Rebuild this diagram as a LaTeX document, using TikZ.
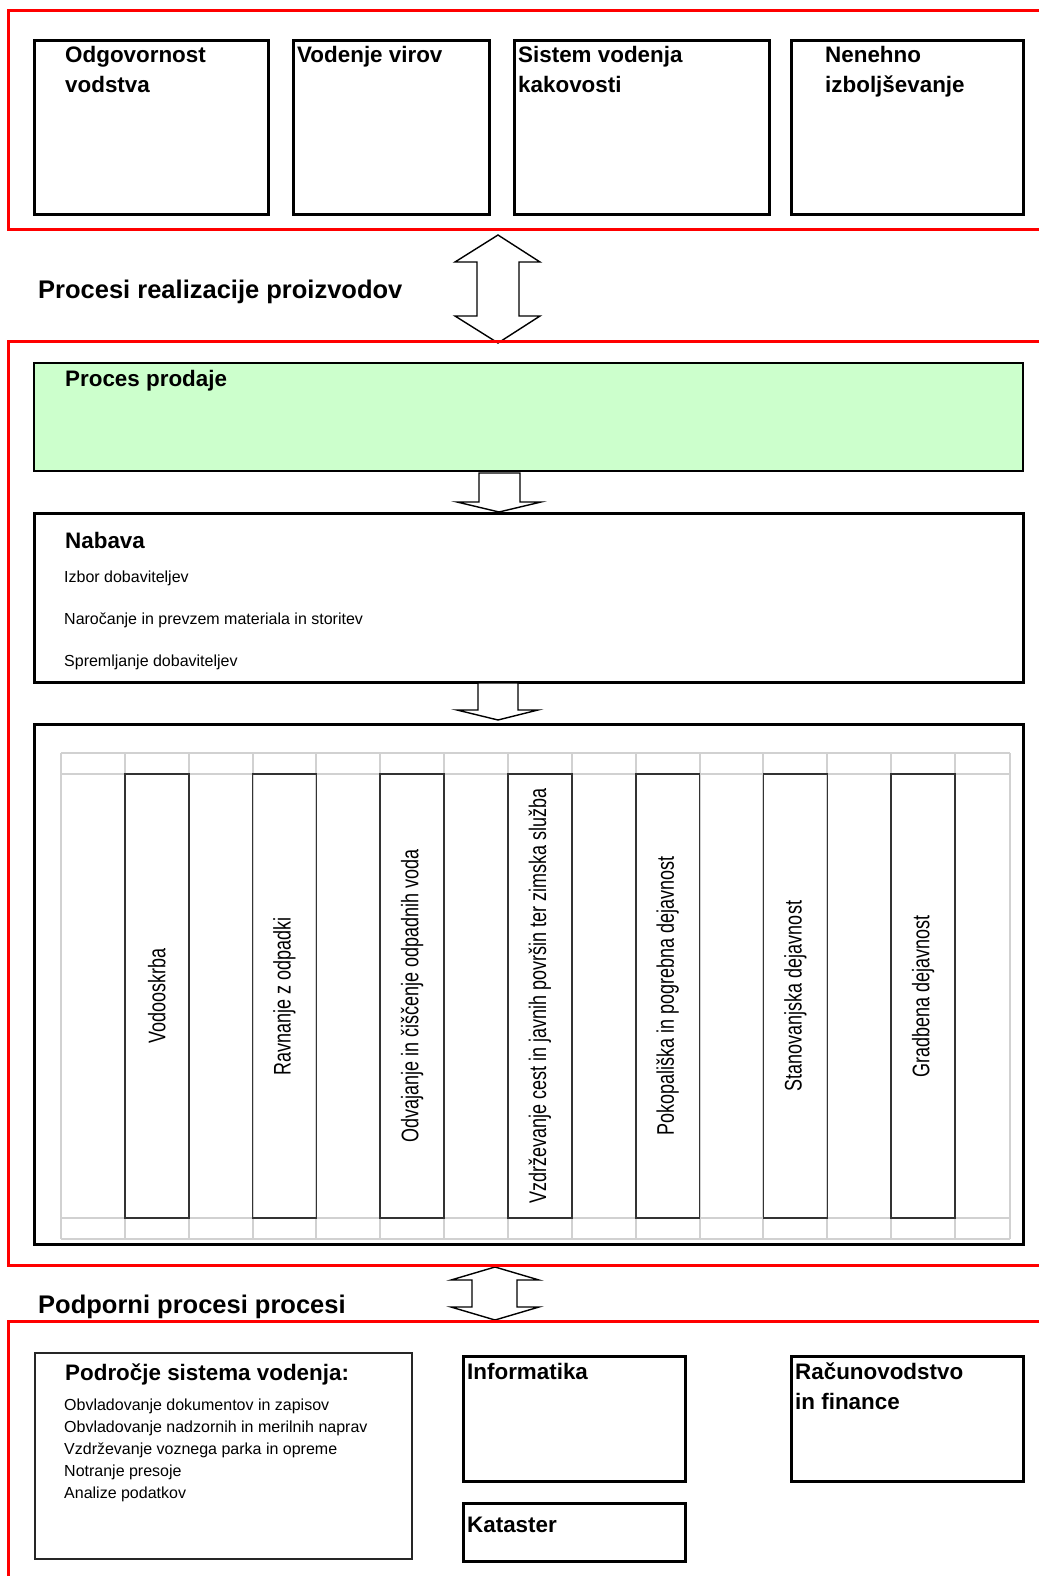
\documentclass[tikz,border=0pt]{standalone}
\usepackage{fontspec}
\setmainfont{Liberation Sans}
\usepackage{tikz}
\usetikzlibrary{positioning}
\definecolor{prodgreen}{RGB}{204,255,204}

\begin{document}
\begin{tikzpicture}[x=1pt, y=-1pt,
    redframe/.style={draw=red, line width=3pt},
    box/.style={draw, line width=2.6pt, inner sep=0pt, anchor=north west},
    head/.style={inner sep=0pt, align=left, font=\fontsize{22.4}{30}\selectfont\bfseries},
    sectitle/.style={inner sep=0pt, anchor=base west, font=\fontsize{25.5}{30}\selectfont\bfseries},
    itemtext/.style={inner sep=0pt, align=left, font=\fontsize{16}{#1}\selectfont},
    itemtext/.default=22.1,
    gridline/.style={draw=black!18, line width=2pt},
    proc/.style={draw=black!80, line width=1.6pt, rotate=90, minimum width=444pt, minimum height=63.9pt, inner sep=0pt, font=\fontsize{24}{24}\selectfont},
    block/.style={draw, fill=white, line width=1.4pt}]
  \useasboundingbox (0,0) rectangle (1039,1576);

  \node[box, minimum width=234pt, minimum height=174pt] (lead) at (33,39) {};
  \node[box, minimum width=196pt, minimum height=174pt] (res) at (292,39) {};
  \node[box, minimum width=255pt, minimum height=174pt] (qms) at (513,39) {};
  \node[box, minimum width=232pt, minimum height=174pt] (impr) at (790,39) {};
  \node[head, below right=7pt and 32pt of lead.north west] (leadtxt) {Odgovornost\\vodstva};
  \node[head, below right=7pt and 5pt of res.north west] (restxt) {Vodenje virov};
  \node[head, below right=7pt and 5pt of qms.north west] (qmstxt) {Sistem vodenja\\kakovosti};
  \node[head, below right=7pt and 35pt of impr.north west] (imprtxt) {Nenehno\\izboljševanje};

  \draw[block] (498,235) -- (540,262) -- (519,262) -- (519,316) -- (540,316) -- (498,343)
    -- (455,316) -- (477,316) -- (477,262) -- (455,262) -- cycle;
  \node[sectitle] (realtitle) at (38,298) {Procesi realizacije proizvodov};

  \node[box, line width=2pt, fill=prodgreen, minimum width=989pt, minimum height=108pt] (sales) at (33,362) {};
  \node[head, below right=8pt and 32pt of sales.north west] (salestxt) {Proces prodaje};
  \draw[block] (479,473) -- (520,473) -- (520,502) -- (541,502) -- (499,512) -- (457,502) -- (479,502) -- cycle;

  \node[box, minimum width=989pt, minimum height=169pt] (supply) at (33,512) {};
  \node[head, below right=20pt and 32pt of supply.north west] (supplytxt) {Nabava};
  \node[itemtext=42, below right=59pt and 31pt of supply.north west] (supplyitems)
    {Izbor dobaviteljev\\Naročanje in prevzem materiala in storitev\\Spremljanje dobaviteljev};
  \draw[block] (478,683) -- (518,683) -- (518,710) -- (538,710) -- (498,720) -- (457,710) -- (478,710) -- cycle;

  \node[box, minimum width=989pt, minimum height=520pt] (ops) at (33,723) {};
  \foreach \k in {0,...,14}
    \draw[gridline] ({61+63.86*\k},753) -- ({61+63.86*\k},1239);
  \draw[gridline] (1010,753) -- (1010,1239);
  \foreach \y in {753,774,1218,1239}
    \draw[gridline] (61,\y) -- (1010,\y);
  \foreach \k/\name/\txt in {1/water/Vodooskrba, 3/waste/Ravnanje z odpadki,
      5/sewage/Odvajanje in čiščenje odpadnih voda,
      7/roads/Vzdrževanje cest in javnih površin ter zimska služba,
      9/burial/Pokopališka in pogrebna dejavnost, 11/housing/Stanovanjska dejavnost,
      13/building/Gradbena dejavnost}
    \node[proc] (\name) at ({61+63.86*(\k+0.5)},996) {\scalebox{0.75}[1]{\txt}};

  \draw[block] (495,1267) -- (539,1280) -- (517,1280) -- (517,1307) -- (539,1307) -- (495,1320)
    -- (451,1307) -- (472,1307) -- (472,1280) -- (451,1280) -- cycle;
  \node[sectitle] (supporttitle) at (38,1313) {Podporni procesi procesi};

  \node[box, line width=1.5pt, draw=black!85, minimum width=377pt, minimum height=206pt] (qsys) at (34,1352) {};
  \node[head, below right=12pt and 31pt of qsys.north west] (qsystxt) {Področje sistema vodenja:};
  \node[itemtext, below right=46.5pt and 30pt of qsys.north west] (qsysitems)
    {Obvladovanje dokumentov in zapisov\\Obvladovanje nadzornih in merilnih naprav\\Vzdrževanje voznega parka in opreme\\Notranje presoje\\Analize podatkov};
  \node[box, minimum width=222pt, minimum height=125pt] (it) at (462,1355) {};
  \node[head, below right=8pt and 5pt of it.north west] (ittxt) {Informatika};
  \node[box, minimum width=222pt, minimum height=58pt] (cad) at (462,1502) {};
  \node[head, below right=15pt and 5pt of cad.north west] (cadtxt) {Kataster};
  \node[box, minimum width=232pt, minimum height=125pt] (fin) at (790,1355) {};
  \node[head, below right=8pt and 5pt of fin.north west] (fintxt) {Računovodstvo\\in finance};

  \draw[redframe] (1039,11) -| (8.5,229) -- (1039,229);
  \draw[redframe] (1039,341) -| (8.5,1265) -- (1039,1265);
  \draw[redframe] (1039,1321) -| (8.5,1576);
\end{tikzpicture}
\end{document}
